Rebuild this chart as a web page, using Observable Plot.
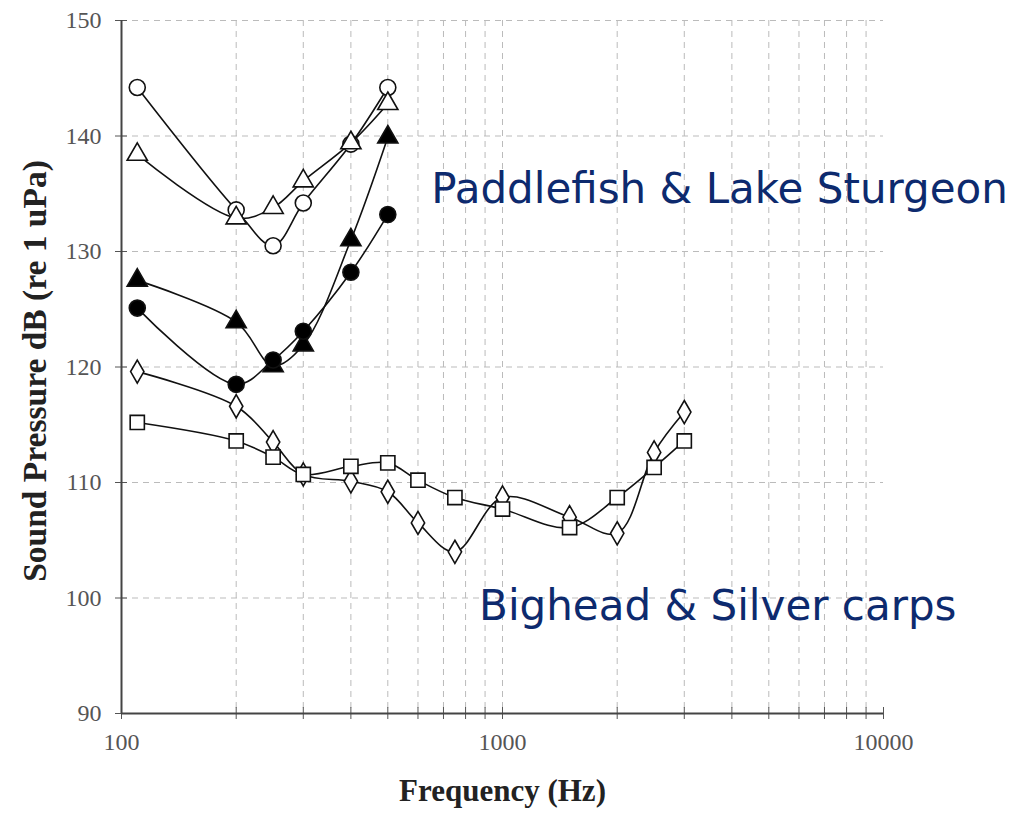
<!DOCTYPE html>
<html>
<head>
<meta charset="utf-8">
<script src="https://cdn.jsdelivr.net/npm/d3@7"></script>
<script src="https://cdn.jsdelivr.net/npm/@observablehq/plot@0.6"></script>
<style>
  html, body { margin: 0; padding: 0; background: #fff; }
</style>
</head>
<body>
<div id="chart"></div>
<script>
// Sturgeon / paddlefish audiograms (4 series)
const lowFreqs = [110, 200, 250, 300, 400, 500];
const openCircle = [144.2, 133.6, 130.5, 134.2, 139.3, 144.2];
const openTriangle = [138.4, 132.9, 133.8, 136.1, 139.4, 142.8];
const filledTriangle = [127.5, 123.9, 120.1, 121.9, 131.0, 139.9];
const filledCircle = [125.1, 118.5, 120.6, 123.1, 128.2, 133.2];

// Carp audiograms (2 series)
const carpFreqs = [110, 200, 250, 300, 400, 500, 600, 750, 1000, 1500, 2000, 2500, 3000];
const diamond = [119.6, 116.6, 113.5, 110.7, 110.1, 109.2, 106.5, 104.0, 108.7, 107.0, 105.6, 112.6, 116.1];
const square  = [115.2, 113.6, 112.2, 110.7, 111.4, 111.7, 110.2, 108.7, 107.7, 106.1, 108.7, 111.3, 113.6];

// Axis ticks
const xMajorTicks = [100, 1000, 10000];
const xMinorTicks = [200, 300, 400, 500, 600, 700, 800, 900, 1000, 2000, 3000, 4000, 5000, 6000, 7000, 8000, 9000];
const xAllTicks = [100, 200, 300, 400, 500, 600, 700, 800, 900, 1000, 2000, 3000, 4000, 5000, 6000, 7000, 8000, 9000, 10000];
const yTicks = [90, 100, 110, 120, 130, 140, 150];
const yGrid = [100, 110, 120, 130, 140, 150];

// Annotations
const groupLabels = [
  {text: "Paddlefish & Lake Sturgeon", f: 650, db: 135.4},
  {text: "Bighead & Silver carps", f: 868, db: 99.3}
];
const yTitle = "Sound Pressure dB (re 1 uPa)";
const xTitle = "Frequency (Hz)";

const series = [
  {name: "open circle", freqs: lowFreqs, vals: openCircle, symbol: "circle", fill: "white", r: 8},
  {name: "open triangle", freqs: lowFreqs, vals: openTriangle, symbol: "triangle", fill: "white", r: 7.5},
  {name: "filled triangle", freqs: lowFreqs, vals: filledTriangle, symbol: "triangle", fill: "black", r: 7.5},
  {name: "filled circle", freqs: lowFreqs, vals: filledCircle, symbol: "circle", fill: "black", r: 8},
  {name: "diamond", freqs: carpFreqs, vals: diamond, symbol: "diamond", fill: "white", r: 7},
  {name: "square", freqs: carpFreqs, vals: square, symbol: "square", fill: "white", r: 8}
];

const rows = s => s.freqs.map((f, i) => ({f, db: s.vals[i], name: s.name}));

const serif = "'Liberation Serif', 'DejaVu Serif', serif";
const marks = [
  Plot.gridX(xMinorTicks, {stroke: "#bbb", strokeOpacity: 1, strokeDasharray: "6,5"}),
  Plot.gridY(yGrid, {stroke: "#bbb", strokeOpacity: 1, strokeDasharray: "6,5"}),
  Plot.axisX(xAllTicks, {tickSize: 6, tickPadding: 13, tickFormat: d => xMajorTicks.includes(d) ? String(d) : "",
    fontFamily: serif, fontSize: 24, color: "#555", label: null}),
  Plot.axisX(xAllTicks, {tickSize: 6, dy: -6, tickFormat: () => "", label: null, color: "#555"}),
  Plot.axisY(yTicks, {tickSize: 6, tickPadding: 14, fontFamily: serif, fontSize: 24, color: "#555", label: null}),
  Plot.axisY(yTicks, {tickSize: 6, dx: 6, tickFormat: () => "", label: null, color: "#555"}),
  Plot.ruleX([100], {stroke: "#444", strokeWidth: 2}),
  Plot.ruleY([90], {stroke: "#444", strokeWidth: 2})
];
for (const s of series) {
  marks.push(Plot.line(rows(s), {x: "f", y: "db", curve: "catmull-rom", stroke: "#111", strokeWidth: 1.6}));
}
for (const s of series) {
  marks.push(Plot.dot(rows(s), {x: "f", y: "db", symbol: () => s.symbol, r: s.r, fill: s.fill, stroke: "#111", strokeWidth: 1.6}));
}
marks.push(
  Plot.text(groupLabels, {x: "f", y: "db", text: "text", textAnchor: "start", fill: "#0d2a6e",
    fontFamily: "'DejaVu Sans', Verdana, sans-serif", fontSize: 42}),
  Plot.text([yTitle], {frameAnchor: "left", textAnchor: "middle", dx: -86, dy: 4, rotate: -90, text: d => d, fontFamily: serif,
    fontWeight: "bold", fontSize: 33.5, fill: "#222"}),
  Plot.text([xTitle], {frameAnchor: "bottom", dy: 87, text: d => d, fontFamily: serif,
    fontWeight: "bold", fontSize: 31, fill: "#222"})
);

const chart = Plot.plot({
  width: 1014,
  height: 819,
  marginLeft: 121,
  marginRight: 131,
  marginTop: 20,
  marginBottom: 106,
  x: {type: "log", domain: [100, 10000]},
  y: {domain: [90, 150]},
  symbol: {type: "identity"},
  style: {background: "white", overflow: "visible", fontSize: "20px", fontFamily: serif},
  marks
});
document.getElementById("chart").appendChild(chart);
</script>
</body>
</html>
